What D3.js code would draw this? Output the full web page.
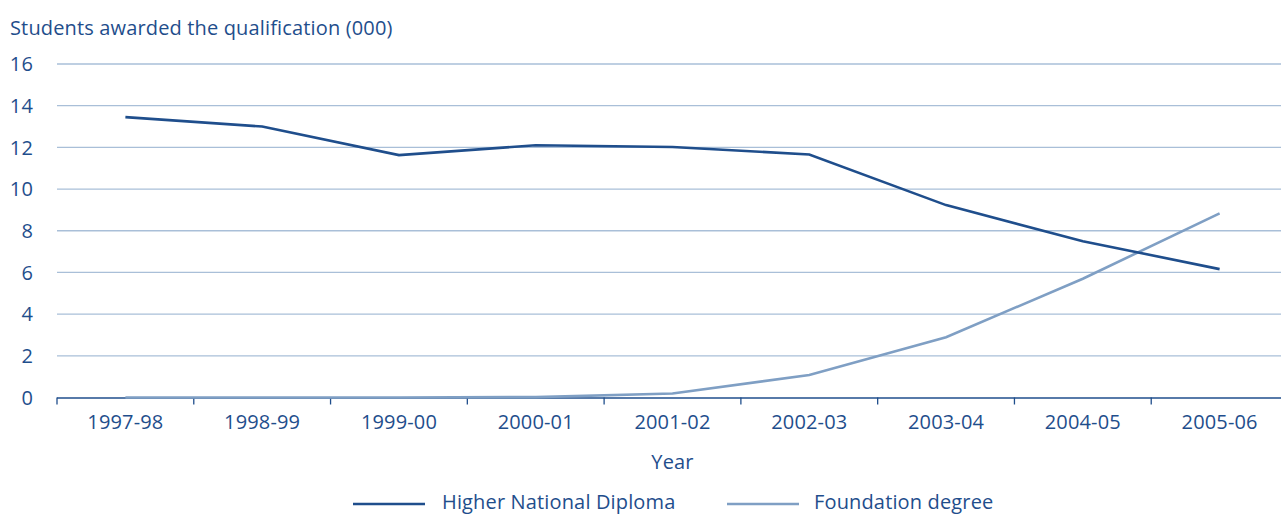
<!DOCTYPE html>
<html>
<head>
<meta charset="utf-8">
<script src="https://cdn.jsdelivr.net/npm/d3@7"></script>
<style>
  html, body { margin: 0; padding: 0; background: #fff; overflow: hidden; }
  svg { display: block; }
  text { font-family: "Open Sans", Lato, "Noto Sans", sans-serif; fill: #1f4e8c; letter-spacing: 0.15px; }
</style>
</head>
<body>
<svg id="chart" width="1281" height="515"></svg>
<script>
// Students awarded the qualification (thousands), by academic year
const years = ["1997-98", "1998-99", "1999-00", "2000-01", "2001-02", "2002-03", "2003-04", "2004-05", "2005-06"];
const hndValues = [13.45, 13.0, 11.63, 12.1, 12.02, 11.66, 9.23, 7.5, 6.16];
const foundationValues = [0.0, 0.0, 0.0, 0.02, 0.19, 1.08, 2.89, 5.7, 8.83];
const yTicks = [0, 2, 4, 6, 8, 10, 12, 14, 16];
const seriesNames = ["Higher National Diploma", "Foundation degree"];

const dark = "#1f4e8c";
const light = "#7f9fc4";
const grid = "#a9bfd8";
const fontFamily = "\"Open Sans\", Lato, \"Noto Sans\", sans-serif";
const fontSize = 20;

const svg = d3.select("#chart");
const plotLeft = 57, plotRight = 1288, plotTop = 64, plotBottom = 397.5;

const x = d3.scaleBand().domain(years).range([plotLeft, plotRight]).padding(0);
const y = d3.scaleLinear().domain([0, 16]).range([plotBottom, plotTop]);

// horizontal gridlines
svg.append("g")
  .selectAll("line")
  .data(yTicks.filter(d => d > 0))
  .join("line")
  .attr("x1", plotLeft).attr("x2", 1281)
  .attr("y1", d => y(d)).attr("y2", d => y(d))
  .attr("stroke", grid).attr("stroke-width", 1.3);

// y tick labels
svg.append("g")
  .selectAll("text")
  .data(yTicks)
  .join("text")
  .attr("x", 33).attr("y", d => y(d))
  .attr("dy", "0.36em")
  .attr("text-anchor", "end")
  .attr("font-size", fontSize)
  .text(d => d);

// x axis
const xAxis = d3.axisBottom(x).tickSize(7).tickSizeOuter(0).tickPadding(10);
const gx = svg.append("g").attr("transform", `translate(0,${plotBottom})`).call(xAxis);
gx.select(".domain").attr("stroke", dark).attr("stroke-width", 1.5).attr("d", `M${plotLeft},0.5H1281`);
// ticks sit at band boundaries
gx.selectAll(".tick").attr("transform", d => `translate(${x(d)},0)`);
gx.selectAll(".tick line").attr("stroke", dark).attr("stroke-width", 1.3);
gx.selectAll(".tick text")
  .attr("x", x.bandwidth() / 2)
  .attr("font-size", fontSize)
  .attr("fill", dark)
  .style("font-family", fontFamily);

// axis titles
svg.append("text").attr("x", 10).attr("y", 35).attr("font-size", fontSize)
  .text("Students awarded the qualification (000)");
svg.append("text").attr("x", x("2001-02") + x.bandwidth() / 2).attr("y", 469)
  .attr("text-anchor", "middle").attr("font-size", fontSize).text("Year");

// series lines
const line = d3.line()
  .x((d, i) => x(years[i]) + x.bandwidth() / 2)
  .y(d => y(d));

svg.append("path").datum(foundationValues)
  .attr("d", line).attr("fill", "none")
  .attr("stroke", light).attr("stroke-width", 2.6);
svg.append("path").datum(hndValues)
  .attr("d", line).attr("fill", "none")
  .attr("stroke", dark).attr("stroke-width", 2.6);

// legend
const legend = [
  { name: seriesNames[0], color: dark, x0: 353, tx: 442 },
  { name: seriesNames[1], color: light, x0: 727, tx: 814 }
];
const lg = svg.append("g").selectAll("g").data(legend).join("g");
lg.append("line")
  .attr("x1", d => d.x0).attr("x2", d => d.x0 + 72)
  .attr("y1", 504).attr("y2", 504)
  .attr("stroke", d => d.color).attr("stroke-width", 2.6);
lg.append("text")
  .attr("x", d => d.tx)
  .attr("y", 509).attr("font-size", fontSize)
  .text(d => d.name);
</script>
</body>
</html>
